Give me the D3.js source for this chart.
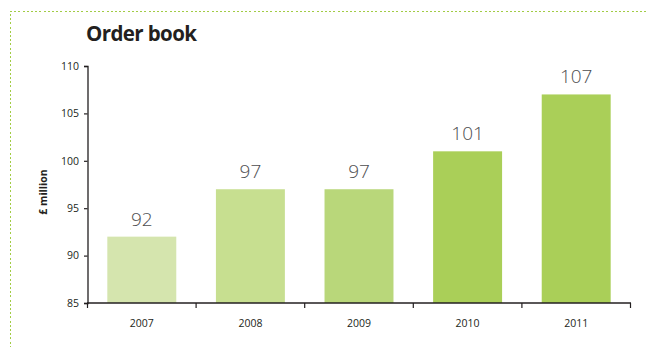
<!DOCTYPE html>
<html>
<head>
<meta charset="utf-8">
<script src="https://cdn.jsdelivr.net/npm/d3@7"></script>
<style>
  html, body { margin: 0; padding: 0; background: #fff; }
  svg { display: block; }
</style>
</head>
<body>
<svg id="chart" width="648" height="347"></svg>
<script>
// Order book, £ million, by year
const years = ["2007", "2008", "2009", "2010", "2011"];
const orderBook = [92, 97, 97, 101, 107];
const barColors = ["#d5e5ae", "#c7df90", "#b9d77a", "#aacf58", "#aacf58"];
const yTicks = [85, 90, 95, 100, 105, 110];

const svg = d3.select("#chart");
const W = 648, H = 347;

// dotted frame along the top and left edges
const frame = svg.append("g")
  .attr("stroke", "#a2cc45")
  .attr("stroke-width", 1)
  .attr("stroke-dasharray", "2,2.2")
  .attr("shape-rendering", "crispEdges")
  .attr("fill", "none");
frame.append("line").attr("x1", 10).attr("y1", 11.5).attr("x2", W).attr("y2", 11.5);
frame.append("line").attr("x1", 10.5).attr("y1", 14).attr("x2", 10.5).attr("y2", H);

// title
svg.append("text")
  .attr("x", 86).attr("y", 41)
  .attr("font-family", "'Open Sans', sans-serif")
  .attr("font-weight", 700)
  .attr("font-size", 20.5)
  .attr("letter-spacing", -0.6)
  .attr("fill", "#231f20")
  .text("Order book");

const m = { left: 87.5, right: 630.5, top: 66, bottom: 303 };

const x = d3.scaleBand()
  .domain(years)
  .range([m.left, m.right])
  .paddingInner(0.365)
  .paddingOuter(0.1825);

const y = d3.scaleLinear()
  .domain([85, 110])
  .range([m.bottom, m.top]);

// bars
svg.append("g").selectAll("rect")
  .data(years)
  .join("rect")
  .attr("x", (d) => x(d))
  .attr("width", x.bandwidth())
  .attr("y", (d, i) => y(orderBook[i]))
  .attr("height", (d, i) => y(85) - y(orderBook[i]))
  .attr("fill", (d, i) => barColors[i]);

// value labels
svg.append("g").selectAll("text")
  .data(years)
  .join("text")
  .attr("x", (d) => x(d) + x.bandwidth() / 2)
  .attr("y", (d, i) => y(orderBook[i]) - 11)
  .attr("text-anchor", "middle")
  .attr("font-family", "'Open Sans', sans-serif")
  .attr("font-weight", 300)
  .attr("font-size", 19)
  .attr("fill", "#4d4d4f")
  .text((d, i) => orderBook[i]);

// y axis
const yAxis = svg.append("g")
  .attr("transform", `translate(${m.left},0)`)
  .call(d3.axisLeft(y).tickValues(yTicks).tickSize(3.5).tickPadding(5));
yAxis.select(".domain").attr("stroke", "#231f20").attr("stroke-width", 1.3);
yAxis.selectAll(".tick line").attr("stroke", "#231f20").attr("stroke-width", 1.2);
yAxis.selectAll(".tick text")
  .attr("font-family", "'Open Sans', sans-serif")
  .attr("font-size", 10.5)
  .attr("fill", "#231f20");

// x axis with ticks on the band boundaries
const xAxis = svg.append("g").attr("transform", `translate(0,${m.bottom})`);
xAxis.append("line")
  .attr("x1", m.left - 0.5).attr("x2", m.right + 0.5)
  .attr("stroke", "#231f20").attr("stroke-width", 1.3);
const gap = (x.step() - x.bandwidth()) / 2;
const bounds = years.map((d) => x(d) - gap)
  .concat([x(years[years.length - 1]) + x.bandwidth() + gap]);
xAxis.selectAll(".bt")
  .data(bounds)
  .join("line")
  .attr("class", "bt")
  .attr("x1", (d) => d).attr("x2", (d) => d)
  .attr("y1", 0).attr("y2", 5)
  .attr("stroke", "#231f20").attr("stroke-width", 1.2);
xAxis.selectAll(".yl")
  .data(years)
  .join("text")
  .attr("class", "yl")
  .attr("x", (d) => x(d) + x.bandwidth() / 2)
  .attr("y", 24)
  .attr("text-anchor", "middle")
  .attr("font-family", "'Open Sans', sans-serif")
  .attr("font-size", 10.5)
  .attr("fill", "#231f20")
  .text((d) => d);

// y axis title
svg.append("text")
  .attr("transform", "translate(47,192) rotate(-90)")
  .attr("text-anchor", "middle")
  .attr("font-family", "'Open Sans', sans-serif")
  .attr("font-weight", 700)
  .attr("font-size", 10.5)
  .attr("fill", "#231f20")
  .text("£ million");
</script>
</body>
</html>
